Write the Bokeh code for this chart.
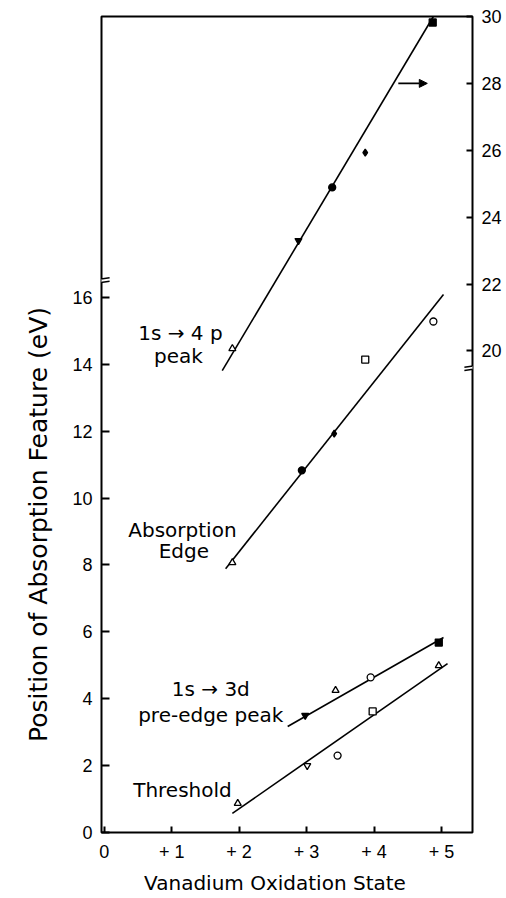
import math
from bokeh.plotting import figure
from bokeh.models import (Range1d, LinearAxis, FixedTicker, Label, Arrow,
                          NormalHead, ColumnDataSource)
from bokeh.embed import file_html
from bokeh.resources import INLINE

# ---------------- data ----------------
# 1s -> 4p peak (right-hand axis, eV)
ox_4p = [1.90, 2.88, 3.38, 3.87, 4.87]
ev_4p = [20.07, 23.30, 24.89, 25.93, 29.82]
fit_4p_x = [1.75, 4.88]
fit_4p_y = [19.41, 30.0]

# Absorption edge (left axis, eV)
ox_edge = [1.90, 2.93, 3.41, 3.87, 4.88]
ev_edge = [8.07, 10.83, 11.93, 14.14, 15.28]
fit_edge_x = [1.80, 5.03]
fit_edge_y = [7.89, 16.09]

# 1s -> 3d pre-edge peak (left axis, eV)
ox_pre = [2.98, 3.43, 3.95, 4.96]
ev_pre = [3.50, 4.25, 4.64, 5.68]
fit_pre_x = [2.72, 5.03]
fit_pre_y = [3.17, 5.83]

# Threshold (left axis, eV)
ox_thr = [1.98, 3.01, 3.46, 3.98, 4.96]
ev_thr = [0.87, 2.00, 2.30, 3.62, 4.99]
fit_thr_x = [1.90, 5.09]
fit_thr_y = [0.57, 5.05]

x_ticks = [0, 1, 2, 3, 4, 5]
x_tick_labels = ["0", "+ 1", "+ 2", "+ 3", "+ 4", "+ 5"]
left_ticks = [0, 2, 4, 6, 8, 10, 12, 14, 16]
right_ticks = [20, 22, 24, 26, 28, 30]

# ---------------- styles ----------------
mk_4p = ["triangle", "inverted_triangle", "circle", "diamond", "square"]
fc_4p = ["white", "black", "black", "black", "black"]
mk_edge = ["triangle", "circle", "diamond", "square", "circle"]
fc_edge = ["white", "black", "black", "white", "white"]
mk_pre = ["inverted_triangle", "triangle", "circle", "square"]
fc_pre = ["black", "white", "white", "black"]
mk_thr = ["triangle", "inverted_triangle", "circle", "square", "triangle"]
fc_thr = ["white", "white", "white", "white", "white"]

FONT = "DejaVu Sans"
TICKFONT = "Liberation Sans"
EM = "\u2003"   # non-collapsing padding used to shift centred axis titles
THIN = "\u2009"

X0, X1 = -0.04, 5.46
Y0, Y1 = 0.0, 24.4
R_OFF = 5.6

p = figure(width=506, height=898,
           x_range=Range1d(X0, X1), y_range=Range1d(Y0, Y1),
           output_backend="svg", toolbar_location=None,
           x_axis_location=None, y_axis_location=None,
           min_border_left=101, min_border_right=34,
           min_border_top=16, min_border_bottom=66)
p.extra_y_ranges = {"r": Range1d(Y0 + R_OFF, Y1 + R_OFF)}
p.outline_line_color = "black"
p.outline_line_width = 2
p.xgrid.visible = False
p.ygrid.visible = False
p.background_fill_color = "white"
p.border_fill_color = "white"


def style_axis(ax, tick_in):
    ax.axis_line_color = None
    ax.major_tick_line_color = "black"
    ax.major_tick_line_width = 2
    ax.major_tick_in = tick_in
    ax.major_tick_out = 0
    ax.minor_tick_line_color = None
    ax.major_label_text_font = TICKFONT
    ax.major_label_text_font_size = "18px"
    ax.major_label_text_color = "black"
    ax.major_label_standoff = 9
    ax.axis_label_text_font = FONT
    ax.axis_label_text_font_style = "normal"
    ax.axis_label_text_color = "black"


left = LinearAxis(ticker=FixedTicker(ticks=left_ticks),
                  axis_label="Position of Absorption Feature (eV)" + EM * 8)
style_axis(left, 8)
left.axis_label_text_font_size = "25px"
left.axis_label_standoff = 16
p.add_layout(left, "left")

right = LinearAxis(y_range_name="r", ticker=FixedTicker(ticks=right_ticks))
style_axis(right, 6)
p.add_layout(right, "right")

bottom = LinearAxis(ticker=FixedTicker(ticks=x_ticks),
                    major_label_overrides={t: s for t, s in zip(x_ticks, x_tick_labels)},
                    axis_label="Vanadium Oxidation State" + EM + THIN)
style_axis(bottom, 6)
bottom.major_label_standoff = 9
bottom.axis_label_text_font_size = "20px"
bottom.axis_label_standoff = 6
p.add_layout(bottom, "below")

# fitted lines
p.line(fit_4p_x, fit_4p_y, y_range_name="r", line_color="black", line_width=1.6)
p.line(fit_edge_x, fit_edge_y, line_color="black", line_width=1.6)
p.line(fit_pre_x, fit_pre_y, line_color="black", line_width=1.6)
p.line(fit_thr_x, fit_thr_y, line_color="black", line_width=1.6)


def pts(xs, ys, mk, fc, **kw):
    src = ColumnDataSource(dict(x=xs, y=ys, m=mk, f=fc))
    p.scatter("x", "y", marker="m", fill_color="f", line_color="black",
              line_width=1.3, size=7, source=src, **kw)


pts(ox_4p, ev_4p, mk_4p, fc_4p, y_range_name="r")
pts(ox_edge, ev_edge, mk_edge, fc_edge)
pts(ox_pre, ev_pre, mk_pre, fc_pre)
pts(ox_thr, ev_thr, mk_thr, fc_thr)

# arrow pointing to the right-hand axis
p.add_layout(Arrow(end=NormalHead(size=8, fill_color="black", line_color="black"),
                   x_start=4.36, y_start=28, x_end=4.79, y_end=28,
                   y_range_name="r", line_color="black", line_width=1.6))


# axis breaks
def axis_break(xc, yc, **kw):
    p.add_layout(Arrow(start=None, end=None, x_start=xc, y_start=yc - 0.05,
                       x_end=xc, y_end=yc + 0.05, line_color="white",
                       line_width=6, **kw))
    for dy in (-0.05, 0.05):
        p.add_layout(Arrow(start=None, end=None,
                           x_start=xc - 0.12, y_start=yc + dy - 0.035,
                           x_end=xc + 0.12, y_end=yc + dy + 0.035,
                           line_color="black", line_width=1.5, **kw))


axis_break(X0, 16.5)
axis_break(X1, 19.5, y_range_name="r")


# annotations
def lab(x, y, text, size="20px", **kw):
    p.add_layout(Label(x=x, y=y, text=text, text_font=FONT, text_font_size=size,
                       text_align="center", text_baseline="middle",
                       text_color="black", **kw))


lab(1.13, 14.95, "1s \u2192 4 p")
lab(1.10, 14.26, "peak")
lab(1.16, 9.06, "Absorption")
lab(1.18, 8.43, "Edge")
lab(1.58, 4.28, "1s \u2192 3d")
lab(1.58, 3.50, "pre-edge peak")
lab(1.16, 1.26, "Threshold")

open("out.html", "w").write(file_html(p, INLINE))
